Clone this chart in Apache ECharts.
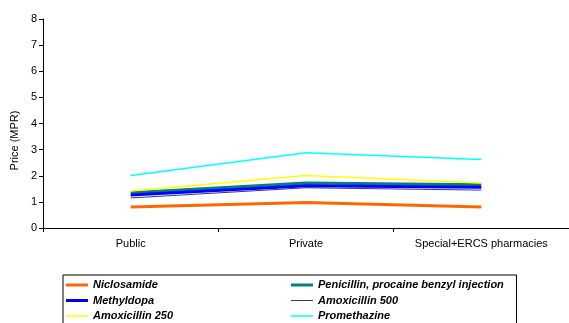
<!DOCTYPE html>
<html>
<head>
<meta charset="utf-8">
<script src="https://cdn.jsdelivr.net/npm/echarts@6/dist/echarts.min.js"></script>
<style>
  html, body { margin: 0; padding: 0; background: #fff; }
  #chart { width: 569px; height: 323px; }
</style>
</head>
<body>
<div id="chart"></div>
<script>
// Median price ratio by sector
const categories = ['Public', 'Private', 'Special+ERCS pharmacies'];
const yTicks = [0, 1, 2, 3, 4, 5, 6, 7, 8];

const niclosamide    = [0.80, 0.98, 0.80];
const penicillin     = [1.35, 1.72, 1.66];
const methyldopa     = [1.26, 1.62, 1.56];
const amoxicillin500 = [1.15, 1.54, 1.45];
const amoxicillin250 = [1.42, 2.01, 1.72];
const promethazine   = [2.01, 2.88, 2.62];

const seriesDefs = [
  { name: 'Niclosamide', data: niclosamide, color: '#FF6600', width: 3 },
  { name: 'Penicillin, procaine benzyl injection', data: penicillin, color: '#008080', width: 3 },
  { name: 'Methyldopa', data: methyldopa, color: '#0000FF', width: 3 },
  { name: 'Amoxicillin 500', data: amoxicillin500, color: '#333399', width: 1 },
  { name: 'Amoxicillin 250', data: amoxicillin250, color: '#FFFF00', width: 1.5 },
  { name: 'Promethazine', data: promethazine, color: '#00FFFF', width: 1.5 }
];

// Legend key: a horizontal bar of the series' line width inside a 22x14 box
function lineKey(w) {
  const y0 = 7 - w / 2;
  return 'path://M0,0M22,14M0,' + y0 + 'h22v' + w + 'h-22z';
}

const chart = echarts.init(document.getElementById('chart'), null, { renderer: 'canvas' });

chart.setOption({
  animation: false,
  backgroundColor: '#fff',
  textStyle: { fontFamily: 'Liberation Sans, Arial, sans-serif' },
  grid: { left: 43, top: 19, width: 528, bottom: 95, containLabel: false },
  xAxis: {
    type: 'category',
    data: categories,
    boundaryGap: true,
    axisLine: { lineStyle: { color: '#000', width: 1 } },
    axisTick: { show: true, length: 4, lineStyle: { color: '#000' } },
    axisLabel: { color: '#000', fontSize: 11, margin: 10 },
    splitLine: { show: false }
  },
  yAxis: {
    type: 'value',
    min: yTicks[0],
    max: yTicks[yTicks.length - 1],
    interval: 1,
    name: 'Price (MPR)',
    nameLocation: 'middle',
    nameGap: 23,
    nameRotate: 90,
    nameTextStyle: { color: '#000', fontSize: 11, padding: [0, 34, 0, 0] },
    axisLine: { show: true, lineStyle: { color: '#000', width: 1 } },
    axisTick: { show: true, length: 4, lineStyle: { color: '#000' } },
    axisLabel: { color: '#000', fontSize: 11, margin: 6 },
    splitLine: { show: false }
  },
  legend: {
    left: 63,
    top: 275,
    orient: 'horizontal',
    width: 452,
    padding: [3, 2, 10, 3],
    itemGap: 1.5,
    itemWidth: 22,
    itemHeight: 14,
    symbolKeepAspect: false,
    borderColor: '#000',
    borderWidth: 1,
    formatter: name => '{n|' + name + '}',
    textStyle: {
      color: '#000',
      rich: {
        n: {
          width: 196.5,
          height: 14,
          lineHeight: 14,
          fontSize: 11,
          fontWeight: 'bold',
          fontStyle: 'italic',
          color: '#000',
          fontFamily: 'Liberation Sans, Arial, sans-serif'
        }
      }
    },
    data: seriesDefs.map(s => ({ name: s.name, icon: lineKey(s.width) }))
  },
  series: seriesDefs.map(s => ({
    name: s.name,
    type: 'line',
    data: s.data,
    symbol: 'none',
    smooth: false,
    color: s.color,
    itemStyle: { color: s.color },
    lineStyle: { color: s.color, width: s.width }
  }))
});
</script>
</body>
</html>
